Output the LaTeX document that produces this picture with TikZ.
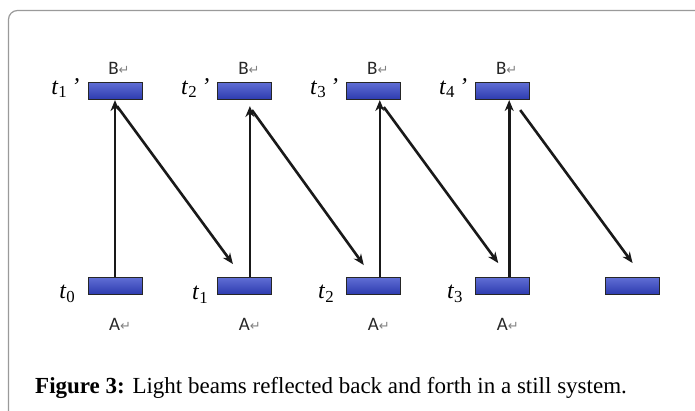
\documentclass[tikz,border=0pt]{standalone}
\usepackage{fontspec}
\setmainfont{Liberation Serif}
\newfontfamily\labelfont{Carlito}
\newfontfamily\symfont{DejaVu Sans}
\usetikzlibrary{arrows.meta,positioning}
\definecolor{mirrortop}{HTML}{5F6DD4}
\definecolor{mirrorbot}{HTML}{2C3AAF}
\definecolor{framegray}{HTML}{9A9A9A}
\newcommand{\retmark}{{\symfont\color{gray}\fontsize{13}{13}\selectfont ↵}}
\tikzset{
  mirror/.style={
    rectangle, draw=black!85, line width=0.9pt,
    top color=mirrortop, bottom color=mirrorbot,
    minimum width=54pt, minimum height=17pt, inner sep=0pt
  },
  beam/.style={
    -{Stealth[length=11pt, width=9pt]}, line width=2.6pt, color=black!90
  },
  endlabel/.style={
    font=\labelfont\fontsize{19}{19}\selectfont, inner sep=0pt, text=black!85
  },
  timelabel/.style={
    font=\fontsize{24}{24}\selectfont, inner sep=0pt
  },
}
\begin{document}
\begin{tikzpicture}[x=1pt, y=-1pt, node distance=75pt]
  \useasboundingbox (0,0) rectangle (695,410);
  % frame
  \draw[framegray, line width=1.2pt, rounded corners=9pt] (8.5,430) -- (8.5,10.5) -- (720,10.5);

  % mirror A (bottom row)
  \node[mirror] (a0) at (115,286) {};
  \node[mirror, right=75pt of a0] (a1) {};
  \node[mirror, right=74pt of a1] (a2) {};
  \node[mirror, right=74pt of a2] (a3) {};
  \node[mirror, right=75pt of a3] (a4) {};

  % mirror B (top row)
  \node[mirror, above=177pt of a0] (b1) {};
  \node[mirror, right=75pt of b1] (b2) {};
  \node[mirror, right=74pt of b2] (b3) {};
  \node[mirror, right=74pt of b3] (b4) {};

  % mirror names
  \node[endlabel, above=7pt of b1, xshift=4pt] (nb1) {B\retmark};
  \node[endlabel, above=7pt of b2, xshift=4pt] (nb2) {B\retmark};
  \node[endlabel, above=7pt of b3, xshift=4pt] (nb3) {B\retmark};
  \node[endlabel, above=7pt of b4, xshift=4pt] (nb4) {B\retmark};
  \node[endlabel, below=23pt of a0, xshift=5pt] (na0) {A\retmark};
  \node[endlabel, below=23pt of a1, xshift=5pt] (na1) {A\retmark};
  \node[endlabel, below=23pt of a2, xshift=5pt] (na2) {A\retmark};
  \node[endlabel, below=23pt of a3, xshift=5pt] (na3) {A\retmark};

  % times
  \node[timelabel, left=8pt of b1, yshift=3pt] (tb1) {\textit{t}\textsubscript{1}\,\textit{'}};
  \node[timelabel, left=8pt of b2, yshift=3pt] (tb2) {\textit{t}\textsubscript{2}\,\textit{'}};
  \node[timelabel, left=8pt of b3, yshift=3pt] (tb3) {\textit{t}\textsubscript{3}\,\textit{'}};
  \node[timelabel, left=8pt of b4, yshift=3pt] (tb4) {\textit{t}\textsubscript{4}\,\textit{'}};
  \node[timelabel, left=12pt of a0, yshift=-8pt] (ta0) {\textit{t}\textsubscript{0}};
  \node[timelabel, left=9pt of a1, yshift=-9pt] (ta1) {\textit{t}\textsubscript{1}};
  \node[timelabel, left=12pt of a2, yshift=-8pt] (ta2) {\textit{t}\textsubscript{2}};
  \node[timelabel, left=12pt of a3, yshift=-8pt] (ta3) {\textit{t}\textsubscript{3}};

  % beams up
  \draw[beam] (a0.north) -- (b1.south);
  \draw[beam] ([xshift=5pt]a1.north) -- ([xshift=5pt, yshift=-6pt]b2.south);
  \draw[beam] ([xshift=6pt]a2.north) -- ([xshift=6pt]b3.south);
  \draw[beam] ([xshift=6.5pt]a3.north) -- ([xshift=6.5pt]b4.south);

  % beams down
  \draw[beam] ([xshift=2pt, yshift=-6pt]b1.south) -- ([xshift=-12pt, yshift=13pt]a1.north);
  \draw[beam] ([xshift=7pt, yshift=-10pt]b2.south) -- ([xshift=-10pt, yshift=12pt]a2.north);
  \draw[beam] ([xshift=10pt, yshift=-7pt]b3.south) -- ([xshift=-4.5pt, yshift=14pt]a3.north);
  \draw[beam] ([xshift=17.5pt, yshift=-10pt]b4.south) -- ([yshift=14pt]a4.north);

  % caption
  \node[anchor=base west, inner sep=0pt, font=\fontsize{23}{26}\selectfont] (cap) at (35,393)
    {\textbf{Figure 3:} Light beams reflected back and forth in a still system.};
\end{tikzpicture}
\end{document}
